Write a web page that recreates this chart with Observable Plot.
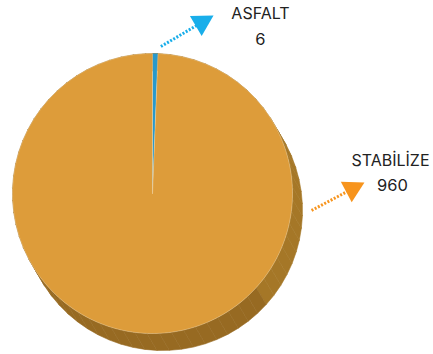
<!DOCTYPE html>
<html>
<head>
<meta charset="utf-8">
<script src="https://cdn.jsdelivr.net/npm/d3@7"></script>
<script src="https://cdn.jsdelivr.net/npm/@observablehq/plot@0.6"></script>
<style>
  html, body { margin: 0; padding: 0; background: #fff; }
  #chart { width: 433px; height: 354px; }
</style>
</head>
<body>
<div id="chart"></div>
<script>
// ---- data ----
const categories = ["ASFALT", "STABİLİZE"];
const values = [6, 960];

// ---- styles ----
const topColors = ["#2899cc", "#dd9c3a"];
const arrowColors = ["#19aeea", "#f7941d"];
const sideLight = "#a57727";
const sideDark = "#976a22";
const W = 433, H = 354;
const cx = 152, cy = 193, R = 140;       // pixel placement of the pie
const depth = [10 / R, -17 / R];         // extrusion offset in pie units (y up)

// label callouts (pie units, y up): dotted line start, arrow tip, label center
const callouts = [
  {start: [0.06, 1.05], tip: [0.436, 1.271], label: [0.771, 1.28], value: [0.771, 1.095]},
  {start: [1.136, -0.121], tip: [1.514, 0.079], label: [1.70, 0.235], value: [1.714, 0.055]}
];

const arcs = d3.pie().sort(null)(values);
const pt = (a, r = 1) => [r * Math.sin(a), r * Math.cos(a)];

// top slices as polygons
const slices = arcs.map((a, i) => {
  const n = Math.max(2, Math.ceil((a.endAngle - a.startAngle) / 0.01));
  const pts = [[0, 0]];
  for (let k = 0; k <= n; k++) pts.push(pt(a.startAngle + (a.endAngle - a.startAngle) * k / n));
  pts.push([0, 0]);
  return pts.map(([x, y]) => ({x, y, i}));
});

// side facets (extrusion)
const facets = [];
const step = Math.PI / 36;
arcs.forEach((a) => {
  for (let s = a.startAngle; s < a.endAngle - 1e-9; s += step) {
    const e = Math.min(a.endAngle, s + step);
    const p0 = pt(s), p1 = pt(e);
    const mid = (s + e) / 2;
    const screenAngle = (Math.atan2(-Math.cos(mid), Math.sin(mid)) * 180 / Math.PI);
    const color = (screenAngle > -40 && screenAngle < 42) ? sideLight : sideDark;
    facets.push({color, pts: [p0, p1, [p1[0] + depth[0], p1[1] + depth[1]], [p0[0] + depth[0], p0[1] + depth[1]], p0]});
  }
});

const xDomain = [-cx / R, (W - cx) / R];
const yDomain = [-(H - cy) / R, cy / R];

const marks = [];
facets.forEach(f => {
  marks.push(Plot.line(f.pts, {x: d => d[0], y: d => d[1], fill: f.color, stroke: f.color, strokeWidth: 0.6}));
});
slices.forEach((s, i) => {
  marks.push(Plot.line(s, {x: "x", y: "y", fill: topColors[i], stroke: i === 0 ? "none" : "#f6e2bf", strokeWidth: 0.6, strokeOpacity: 0.6}));
});

callouts.forEach((c, i) => {
  const [tx, ty] = c.tip;
  const dx = tx - c.start[0], dy = ty - c.start[1];
  const len = Math.hypot(dx, dy);
  const ux = dx / len, uy = dy / len;
  const L = 0.147, w = 0.083;
  const bx = tx - L * ux, by = ty - L * uy;
  const head = [[tx, ty], [bx - w * uy, by + w * ux], [bx + w * uy, by - w * ux], [tx, ty]];
  marks.push(Plot.line([c.start, [bx + 0.01 * ux, by + 0.01 * uy]], {
    x: d => d[0], y: d => d[1], stroke: arrowColors[i], strokeWidth: 3, strokeDasharray: "2 1.6", strokeLinecap: "butt"
  }));
  marks.push(Plot.line(head, {x: d => d[0], y: d => d[1], fill: arrowColors[i], stroke: "none"}));
  marks.push(Plot.text([categories[i]], {x: c.label[0], y: c.label[1], text: d => d, fontSize: 16, fill: "#222", textAnchor: "middle"}));
  marks.push(Plot.text([values[i]], {x: c.value[0], y: c.value[1], text: d => String(d), fontSize: 16.5, fill: "#222", textAnchor: "middle"}));
});

const chart = Plot.plot({
  width: W,
  height: H,
  margin: 0,
  x: {domain: xDomain, axis: null},
  y: {domain: yDomain, axis: null},
  style: {fontFamily: "Inter, 'Open Sans', sans-serif", background: "#fff"},
  marks
});
document.getElementById("chart").appendChild(chart);
</script>
</body>
</html>
